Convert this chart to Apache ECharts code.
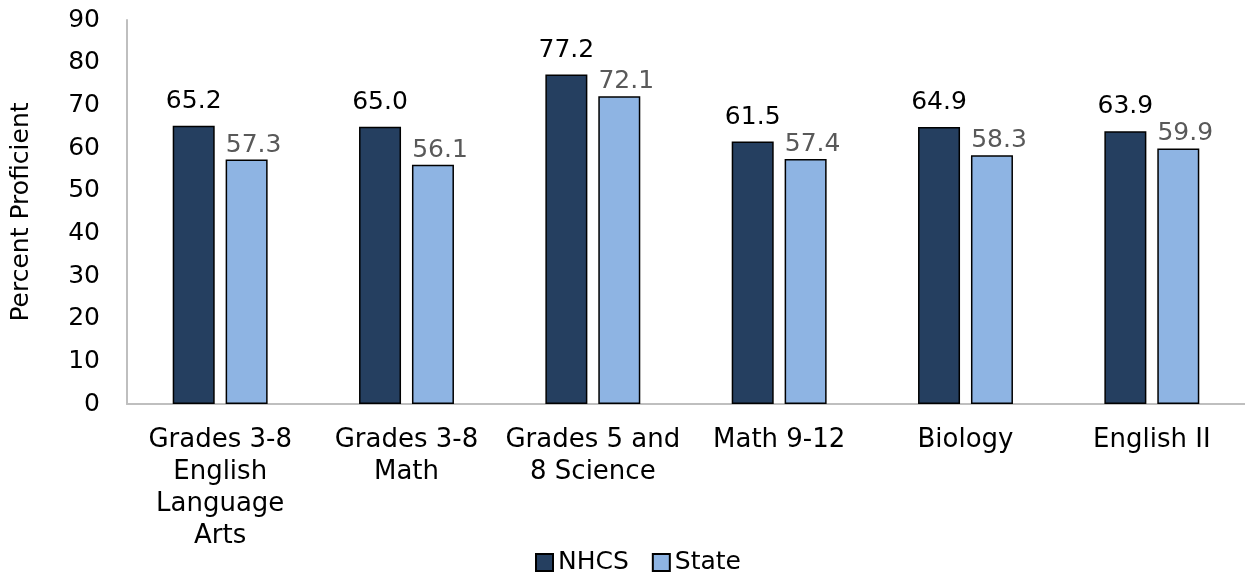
<!DOCTYPE html>
<html>
<head>
<meta charset="utf-8">
<script src="https://cdn.jsdelivr.net/npm/echarts@6/dist/echarts.min.js"></script>
<style>
  html, body { margin: 0; padding: 0; background: #fff; }
  #chart { width: 1245px; height: 573px; }
</style>
</head>
<body>
<div id="chart"></div>
<script>
var categories = ['Grades 3-8\nEnglish\nLanguage\nArts', 'Grades 3-8\nMath', 'Grades 5 and\n8 Science', 'Math 9-12', 'Biology', 'English II'];
var nhcs = [65.2, 65.0, 77.2, 61.5, 64.9, 63.9];
var state = [57.3, 56.1, 72.1, 57.4, 58.3, 59.9];
var yTicks = { min: 0, max: 90, interval: 10 };

var font = "'DejaVu Sans', Verdana, sans-serif";
var myChart = echarts.init(document.getElementById('chart'));
var option = {
    animation: false,
    textStyle: { fontFamily: font },
    grid: { left: 127, right: 0, top: 20, bottom: 169, containLabel: false, outerBoundsMode: 'none' },
    legend: {
        top: 545,
        left: 530,
        itemWidth: 17,
        itemHeight: 17,
        itemGap: 23,
        icon: 'rect',
        textStyle: { fontSize: 25, color: '#000', fontFamily: font },
        data: ['NHCS', 'State']
    },
    xAxis: {
        type: 'category',
        data: categories,
        axisLine: { lineStyle: { color: '#bfbfbf', width: 2 } },
        axisTick: { show: false },
        axisLabel: { fontSize: 26, color: '#000', lineHeight: 32, margin: 20, interval: 0, fontFamily: font }
    },
    yAxis: {
        type: 'value',
        min: yTicks.min,
        max: yTicks.max,
        interval: yTicks.interval,
        name: 'Percent Proficient',
        nameLocation: 'middle',
        nameGap: 93,
        nameTextStyle: { fontSize: 25, color: '#000', fontFamily: font },
        axisLine: { show: true, lineStyle: { color: '#bfbfbf', width: 2 } },
        axisTick: { show: false },
        splitLine: { show: false },
        axisLabel: { fontSize: 25, color: '#000', margin: 27, fontFamily: font }
    },
    series: [
        {
            name: 'NHCS',
            type: 'bar',
            data: nhcs,
            barWidth: 42,
            barGap: '26%',
            itemStyle: { color: '#253f60', borderColor: '#000', borderWidth: 1.5 },
            label: {
                show: true, position: 'top', distance: 12,
                fontSize: 25, color: '#000', fontFamily: font,
                formatter: function (p) { return p.value.toFixed(1); }
            }
        },
        {
            name: 'State',
            type: 'bar',
            data: state,
            barWidth: 42,
            itemStyle: { color: '#8eb4e3', borderColor: '#000', borderWidth: 1.5 },
            label: {
                show: true, position: 'top', distance: 2, offset: [7, 0],
                fontSize: 25, color: '#595959', fontFamily: font,
                formatter: function (p) { return p.value.toFixed(1); }
            }
        }
    ]
};
myChart.setOption(option);
</script>
</body>
</html>
